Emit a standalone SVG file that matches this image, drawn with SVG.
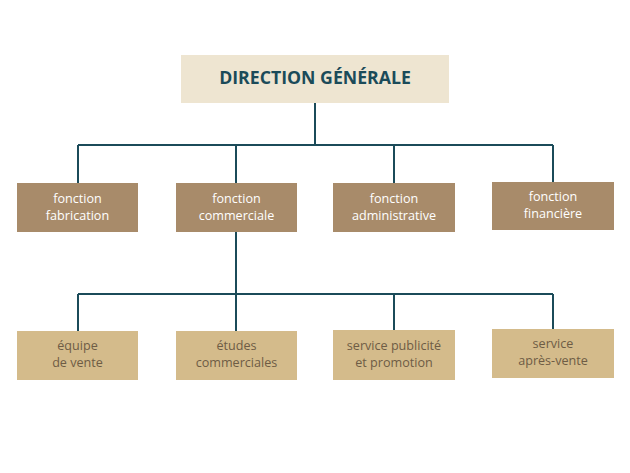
<svg xmlns="http://www.w3.org/2000/svg" width="630" height="473" viewBox="0 0 630 473">
<style>
.top{fill:#EEE5D1}
.f{fill:#A88B6A}
.s{fill:#D4BB8B}
.ln{stroke:#1B4B59;stroke-width:2;fill:none}
text{font-family:"Open Sans","Liberation Sans",sans-serif;text-anchor:middle}
.tt{font-weight:bold;font-size:17.7px;fill:#1B4B59}
.wt{font-size:12.6px;fill:#FFFFFF}
.dt{font-size:12.6px;fill:#6E5C45}
</style>
<rect width="630" height="473" fill="#FFFFFF"/>
<g id="connectors">
<path class="ln" d="M315 103V145M78 145H553M78 145V183M236 145V183M394 145V183M553 145V182"/>
<path class="ln" d="M236 232V294M78 294H553M78 294V331M236 294V331M394 294V330M553 294V329"/>
</g>
<g id="direction"><rect class="top" x="181" y="55" width="268" height="48"/><text class="tt" x="315" y="84">DIRECTION GÉNÉRALE</text></g>
<g id="fabrication"><rect class="f" x="17" y="183" width="121" height="49"/><text class="wt" x="77.5" y="203">fonction</text><text class="wt" x="77.5" y="220">fabrication</text></g>
<g id="commerciale"><rect class="f" x="176" y="183" width="121" height="49"/><text class="wt" x="236.5" y="202.5">fonction</text><text class="wt" x="236.5" y="219.5">commerciale</text></g>
<g id="administrative"><rect class="f" x="333" y="183" width="122" height="49"/><text class="wt" x="394" y="203">fonction</text><text class="wt" x="394" y="220">administrative</text></g>
<g id="financiere"><rect class="f" x="492" y="182" width="122" height="48"/><text class="wt" x="553" y="200.5">fonction</text><text class="wt" x="553" y="217.5">financière</text></g>
<g id="vente"><rect class="s" x="17" y="331" width="121" height="49"/><text class="dt" x="77.5" y="350">équipe</text><text class="dt" x="77.5" y="367">de vente</text></g>
<g id="etudes"><rect class="s" x="176" y="331" width="121" height="49"/><text class="dt" x="236.5" y="349.5">études</text><text class="dt" x="236.5" y="366.5">commerciales</text></g>
<g id="publicite"><rect class="s" x="333" y="330" width="122" height="50"/><text class="dt" x="394" y="350">service publicité</text><text class="dt" x="394" y="367">et promotion</text></g>
<g id="apresvente"><rect class="s" x="492" y="329" width="122" height="49"/><text class="dt" x="553" y="347.5">service</text><text class="dt" x="553" y="364.5">après-vente</text></g>
</svg>
